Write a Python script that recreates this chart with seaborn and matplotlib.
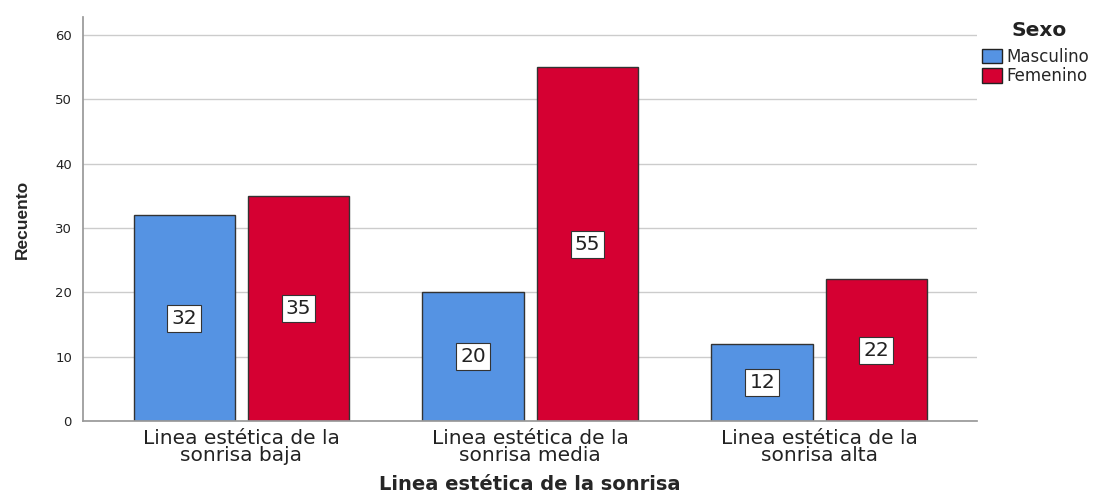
import matplotlib
import pandas as pd
import seaborn as sns
from matplotlib import pyplot as plt
from matplotlib.patches import Patch

matplotlib.use("Agg")

categories = [
    "Linea estética de la\nsonrisa baja",
    "Linea estética de la\nsonrisa media",
    "Linea estética de la\nsonrisa alta",
]
sexes = ["Masculino", "Femenino"]
masculino = [32, 20, 12]
femenino = [35, 55, 22]
colors = ["#5593E3", "#D50032"]

data = pd.DataFrame({
    "categoria": categories * 2,
    "sexo": [sexes[0]] * 3 + [sexes[1]] * 3,
    "recuento": masculino + femenino,
})

sns.set_theme(style="white")
plt.rcParams["font.family"] = ["DejaVu Sans"]

fig = plt.figure(figsize=(11, 4.95), dpi=100)
ax = fig.add_axes([0.0755, 0.1495, 0.8125, 0.8162])

sns.barplot(
    data=data, x="categoria", y="recuento", hue="sexo",
    order=categories, hue_order=sexes, palette=colors,
    width=0.79, gap=0.11, edgecolor="#333333", linewidth=1.0,
    saturation=1, legend=False, ax=ax,
)

for container in ax.containers:
    for bar in container:
        h = bar.get_height()
        ax.text(
            bar.get_x() + bar.get_width() / 2, h / 2, f"{h:.0f}",
            ha="center", va="center", fontsize=14.5, color="#222222",
            bbox=dict(boxstyle="square,pad=0.2", facecolor="white", edgecolor="#333333", linewidth=0.8),
        )

ax.set_xlim(-0.548, 0.545 + 2)
ax.set_ylim(0, 62.8)
ax.set_yticks(range(0, 61, 10))
ax.yaxis.grid(True, color="#cccccc", linewidth=1.0)
ax.set_axisbelow(True)
for side in ["top", "right"]:
    ax.spines[side].set_visible(False)
ax.spines["left"].set_color("#999999")
ax.spines["bottom"].set_color("#999999")
ax.tick_params(axis="y", labelsize=9.5, colors="#222222", length=0, pad=8)
ax.tick_params(axis="x", labelsize=14.5, colors="#222222", length=0, pad=6)
for lbl in ax.get_xticklabels():
    lbl.set_linespacing(0.85)

ax.set_xlabel("Linea estética de la sonrisa", fontsize=14, fontweight="bold", va="center")
ax.xaxis.set_label_coords(0.5, -0.157)
ax.set_ylabel("Recuento", fontsize=12.5, fontweight="bold", labelpad=18,
              family=["Liberation Sans Narrow", "Liberation Sans"])

# legend title drawn separately so the gap above the entries matches
fig.text(0.945, 0.939, "Sexo", ha="center", va="center", fontsize=14.5,
         fontweight="bold", color="#222222")
handles = [Patch(facecolor=c, edgecolor="#222222", linewidth=1.0) for c in colors]
fig.legend(
    handles, sexes, loc="upper left", bbox_to_anchor=(0.893, 0.904),
    frameon=False, fontsize=12, handlelength=1.2, handleheight=0.95,
    handletextpad=0.25, labelspacing=0.1, borderpad=0.0, borderaxespad=0.0,
)

fig.savefig("out.png", dpi=100)
